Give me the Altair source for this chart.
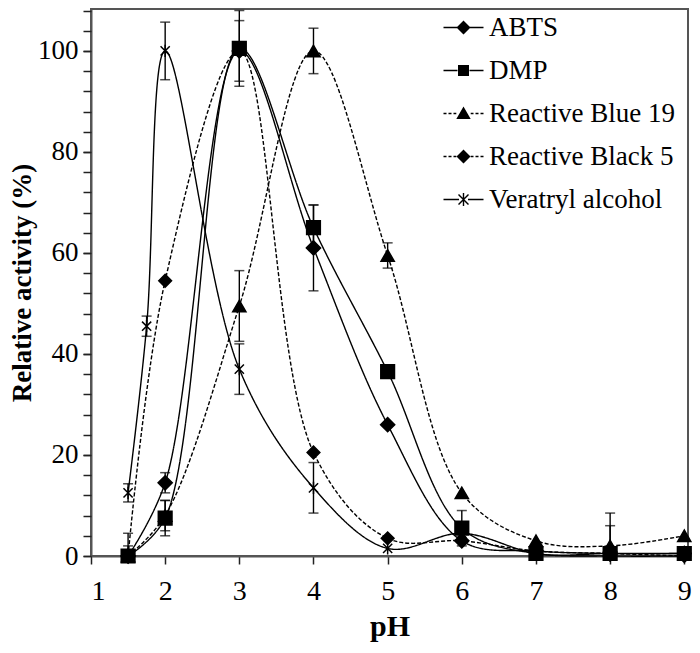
import altair as alt
import pandas as pd

series_names = ["ABTS", "DMP", "Reactive Blue 19", "Reactive Black 5", "Veratryl alcohol"]

ph_common = [1.5, 2, 3, 4, 5, 6, 7, 8, 9]
abts = [0, 14.5, 100, 61, 26, 3, 1, 0.5, 0.5]
abts_err = [0, 2, 6, 8.5, 0, 0, 0, 0, 0]
dmp = [0, 7.5, 100.5, 65, 36.5, 5.5, 0.5, 0.5, 0.5]
dmp_err = [0, 3.5, 7.5, 4.5, 0, 3.5, 0, 5.5, 0]
rb19 = [0, 8, 49.5, 100, 59.5, 12.5, 3, 2, 4]
rb19_err = [2, 3, 7, 4.5, 2.5, 0, 0, 6.5, 0]
rb5 = [0, 54.5, 100, 20.5, 3.5, 3, 1, 0.5, 0]
rb5_err = [4.5, 0, 0, 0, 0, 0, 0, 0, 0]
ver_ph = [1.5, 1.75, 2, 3, 4, 5, 6, 7, 8, 9]
veratryl = [12.5, 45.5, 100, 37, 13.5, 1.5, 4.5, 0.5, 0, 0]
veratryl_err = [1.8, 2, 5.7, 5, 5, 0, 0, 0, 0, 0]

x_ticks = [1, 2, 3, 4, 5, 6, 7, 8, 9]
y_major = [0, 20, 40, 60, 80, 100]
y_minor = list(range(0, 109, 4))

rows = []
for name, xs, ys, es in [
    ("ABTS", ph_common, abts, abts_err),
    ("DMP", ph_common, dmp, dmp_err),
    ("Reactive Blue 19", ph_common, rb19, rb19_err),
    ("Reactive Black 5", ph_common, rb5, rb5_err),
    ("Veratryl alcohol", ver_ph, veratryl, veratryl_err),
]:
    for x, y, e in zip(xs, ys, es):
        rows.append({"series": name, "pH": x, "value": y, "err": e,
                     "lo": y - e, "hi": y + e})
df = pd.DataFrame(rows)

FONT = "Liberation Serif, Times New Roman, serif"

ASTERISK = "M-0.75,-0.75L0.75,0.75M-0.75,0.75L0.75,-0.75M0,-1V1"
data_shapes = ["diamond", "square", "triangle-up", "diamond", ASTERISK]


def seg(a, b, t=0.075):
    return f"M{a},{-t}H{b}V{t}H{a}Z"


SOLID_L = seg(-2, -0.6)
SOLID_R = seg(0.6, 2)
SOLID_AL = seg(-2, -0.45)
SOLID_AR = seg(0.45, 2)
DASHED = "".join(seg(a, b) for a, b in [(-2, -1.7), (-1.5, -1.2), (-1.0, -0.72),
                                         (0.72, 1.0), (1.2, 1.5), (1.7, 2.0)])
DIAM = "M-0.7,0L0,-0.7L0.7,0L0,0.7Z"
SQ = "M-0.55,-0.55H0.55V0.55H-0.55Z"
TRI = "M0,-0.7L0.72,0.55H-0.72Z"
AST = ("M-0.55,-0.45L0.45,0.55L0.55,0.45L-0.45,-0.55Z"
       "M-0.45,0.55L0.55,-0.45L0.45,-0.55L-0.55,0.45Z"
       "M-0.07,-0.65V0.65H0.07V-0.65Z")
legend_shapes = [SOLID_L + SOLID_R + DIAM, SOLID_L + SOLID_R + SQ, DASHED + TRI,
                 DASHED + DIAM, SOLID_AL + SOLID_AR + AST]

y_scale = alt.Scale(domain=[0, 108.3], nice=False)

x_enc = alt.X("pH:Q", scale=alt.Scale(domain=[1, 9.05], nice=False, zero=False),
              axis=alt.Axis(values=x_ticks, title="pH", format="d", tickSize=8,
                            labelPadding=13, titlePadding=6, grid=False))
y_enc = alt.Y("value:Q", scale=y_scale,
              axis=alt.Axis(values=y_major, title="Relative activity (%)", orient="left",
                            labelOverlap=False, tickSize=8, labelPadding=5,
                            labelFontSize=27, titleFontSize=27,
                            titlePadding=1, grid=False))

base = alt.Chart(df)

lines = base.mark_line(interpolate="catmull-rom", color="black", strokeWidth=1.4).encode(
    x=x_enc, y=y_enc, detail="series:N",
    strokeDash=alt.StrokeDash("series:N", scale=alt.Scale(
        domain=series_names, range=[[1, 0], [1, 0], [4, 2], [4, 2], [1, 0]]), legend=None),
)

minor_ticks = base.mark_point(opacity=0).encode(
    x="pH:Q",
    y=alt.Y("value:Q", scale=y_scale,
            axis=alt.Axis(values=y_minor, labels=False, domain=False, title=None,
                          orient="left", tickSize=8, grid=False)),
)

eb = base.transform_filter("datum.err > 0")
err_rules = eb.mark_rule(color="black", strokeWidth=1.4, clip=True).encode(
    x="pH:Q", y=alt.Y("lo:Q", axis=None), y2="hi:Q")
cap_lo = eb.mark_tick(color="black", orient="horizontal", size=10, thickness=1.5,
                      clip=True).encode(x="pH:Q", y=alt.Y("lo:Q", axis=None))
cap_hi = eb.mark_tick(color="black", orient="horizontal", size=10, thickness=1.5,
                      clip=True).encode(x="pH:Q", y=alt.Y("hi:Q", axis=None))

points = base.mark_point(filled=True, color="black", stroke="black", strokeWidth=1.5,
                         opacity=1).encode(
    x="pH:Q", y=alt.Y("value:Q", axis=None),
    shape=alt.Shape("series:N", scale=alt.Scale(domain=series_names, range=data_shapes),
                    legend=None),
    size=alt.Size("series:N", scale=alt.Scale(domain=series_names,
                                               range=[200, 150, 200, 200, 130]), legend=None),
)

legend_layer = base.mark_point(filled=True, color="black", opacity=0).encode(
    x="pH:Q", y=alt.Y("value:Q", axis=None),
    shape=alt.Shape("series:N", scale=alt.Scale(domain=series_names, range=legend_shapes),
                    legend=alt.Legend(title=None, orient="none", legendX=359, legendY=5,
                                      symbolSize=400, symbolStrokeWidth=0,
                                      symbolFillColor="black",
                                      symbolOpacity=1, labelFont=FONT, labelFontSize=27,
                                      labelColor="black", labelOffset=12, rowPadding=15,
                                      labelLimit=400)),
)

chart = alt.layer(lines, minor_ticks, err_rules, cap_lo, cap_hi, points,
                  legend_layer).resolve_scale(
    shape="independent", size="independent"
).resolve_axis(y="independent").properties(
    width=597, height=547,
    autosize=alt.AutoSizeParams(type="none"),
    padding={"left": 83, "top": 1, "right": 4, "bottom": 86},
).configure_view(
    stroke="#555555", strokeWidth=2
).configure_axis(
    labelFont=FONT, labelFontSize=28, labelColor="black",
    titleFont=FONT, titleFontSize=30, titleFontWeight="bold", titleColor="black",
    domainColor="#555555", domainWidth=2, tickColor="#222222", tickWidth=1.5,
)

chart.save("out.html", embed_options={"renderer": "svg", "actions": False})
